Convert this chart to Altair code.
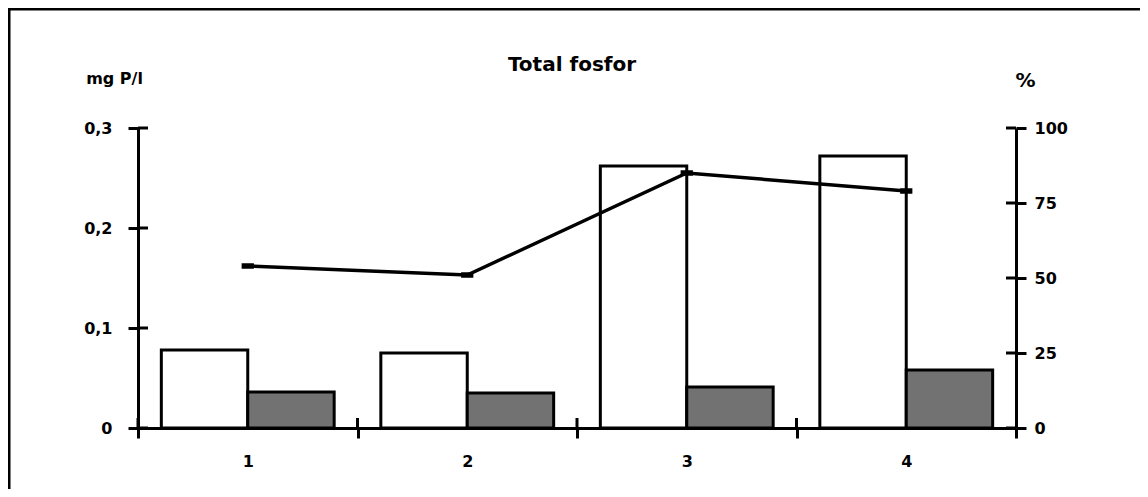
import altair as alt
import pandas as pd

categories = ["1", "2", "3", "4"]
series = ["open", "shaded"]
open_bar = [0.078, 0.075, 0.262, 0.272]
shaded_bar = [0.036, 0.035, 0.041, 0.058]
percent = [54, 51, 85, 79]
left_ticks = [0, 0.1, 0.2, 0.3]
right_ticks = [0, 25, 50, 75, 100]

W, H = 878, 300
FONT = "DejaVu Sans"

bars_df = pd.DataFrame({
    "cat": categories * 2,
    "series": [series[0]] * 4 + [series[1]] * 4,
    "value": open_bar + shaded_bar,
})
line_df = pd.DataFrame({"cat": categories, "pct": percent})
lt_df = pd.DataFrame({"value": left_ticks})
rt_df = pd.DataFrame({"pct": right_ticks})
cat_df = pd.DataFrame({"cat": categories})
one_df = pd.DataFrame({"t": ["Total fosfor"]})

x_scale = alt.Scale(domain=categories, paddingInner=0, paddingOuter=0)
x_axis = alt.Axis(title=None, labelAngle=0, tickBand="extent", domainWidth=3, tickWidth=3,
                  tickSize=10, labelFontSize=16, labelFontWeight="bold", labelPadding=15,
                  labelFont=FONT, domainColor="black", tickColor="black", labelColor="black")
yl_scale = alt.Scale(domain=[0, 0.3], nice=False, zero=True)
yr_scale = alt.Scale(domain=[0, 100], nice=False, zero=True)

yl_axis = alt.Axis(
    values=left_ticks, title="mg P/l", grid=False, tickSize=10, tickWidth=3, domainWidth=3,
    domainColor="black", tickColor="black", labelColor="black",
    labelFont=FONT, labelFontSize=16, labelFontWeight="bold", labelPadding=16,
    labelExpr="datum.value == 0 ? '0' : replace(format(datum.value, '.1f'), '.', ',')",
    titleAngle=0, titleX=-24, titleY=-50, titleAlign="center", titleBaseline="middle",
    titleFont=FONT, titleFontSize=16, titleFontWeight="bold", titleColor="black")
yr_axis = alt.Axis(
    orient="right", values=right_ticks, title="%", grid=False, tickSize=10, tickWidth=3,
    domainWidth=3, domainColor="black", tickColor="black", labelColor="black",
    labelFont=FONT, labelFontSize=16, labelFontWeight="bold", labelPadding=8,
    titleAngle=0, titleX=9, titleY=-48, titleAlign="center", titleBaseline="middle",
    titleFont=FONT, titleFontSize=20, titleFontWeight="bold", titleColor="black")

X = alt.X("cat:N", scale=x_scale, axis=x_axis)
YL = alt.Y("value:Q", scale=yl_scale, axis=yl_axis)
YR = alt.Y("pct:Q", scale=yr_scale, axis=yr_axis)

bars = alt.Chart(bars_df).mark_bar(stroke="black", strokeWidth=3).encode(
    x=X,
    xOffset=alt.XOffset("series:N", scale=alt.Scale(domain=series, paddingInner=0, paddingOuter=0.27)),
    y=YL,
    fill=alt.Fill("series:N", scale=alt.Scale(domain=series, range=["white", "#727272"]), legend=None),
)

left_in = alt.Chart(lt_df).mark_rule(color="black", strokeWidth=3).encode(
    y=YL, x=alt.value(0), x2=alt.value(10),
)
x_in = alt.Chart(cat_df).mark_rule(color="black", strokeWidth=3).encode(
    x=alt.X("cat:N", scale=x_scale, bandPosition=0, axis=x_axis),
    y=alt.value(H - 10), y2=alt.value(H),
)
frame = alt.Chart(one_df).mark_rect(filled=False, stroke="black", strokeWidth=3).encode(
    x=alt.value(-129), x2=alt.value(W + 400), y=alt.value(-119), y2=alt.value(H + 400),
)
title = alt.Chart(one_df).mark_text(fontSize=20, fontWeight="bold", font=FONT, color="black",
                                    baseline="middle", align="center").encode(
    text="t:N", x=alt.value(W / 2 - 5), y=alt.value(-63),
)

left_group = alt.layer(frame, bars, left_in, x_in, title)

line = alt.Chart(line_df).mark_line(color="black", strokeWidth=3.5).encode(x=X, y=YR)
points = alt.Chart(line_df).mark_point(
    shape="M-1,-0.45L1,-0.45L1,0.45L-1,0.45Z", filled=True, color="black", size=150, opacity=1
).encode(x=X, y=YR)
right_in = alt.Chart(rt_df).mark_rule(color="black", strokeWidth=3).encode(
    y=YR, x=alt.value(W - 10), x2=alt.value(W),
)
right_group = alt.layer(line, points, right_in)

chart = alt.layer(left_group, right_group).resolve_scale(y="independent").properties(
    width=W, height=H,
    padding={"left": 130, "top": 120, "right": 124, "bottom": 61},
    autosize=alt.AutoSizeParams(type="none"),
    background="white",
).configure_view(stroke=None)

chart.save("out.html", embed_options={"renderer": "svg", "actions": False})
